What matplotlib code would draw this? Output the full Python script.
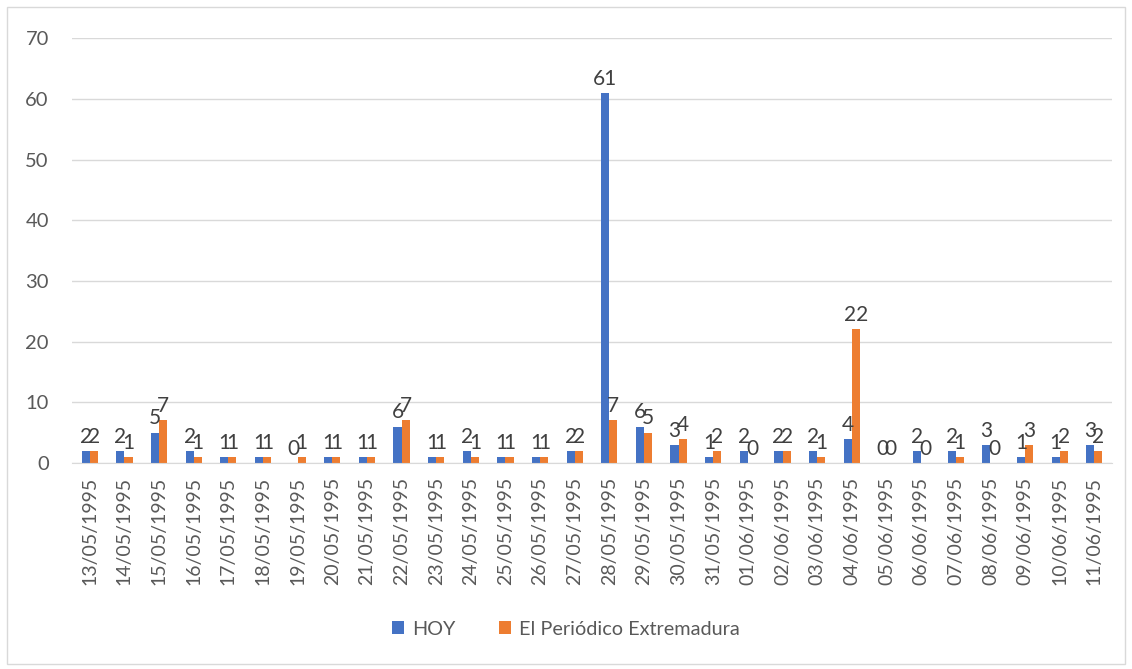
import numpy as np
import matplotlib.pyplot as plt
from matplotlib.patches import Rectangle

dates = ['13/05/1995', '14/05/1995', '15/05/1995', '16/05/1995', '17/05/1995',
         '18/05/1995', '19/05/1995', '20/05/1995', '21/05/1995', '22/05/1995',
         '23/05/1995', '24/05/1995', '25/05/1995', '26/05/1995', '27/05/1995',
         '28/05/1995', '29/05/1995', '30/05/1995', '31/05/1995', '01/06/1995',
         '02/06/1995', '03/06/1995', '04/06/1995', '05/06/1995', '06/06/1995',
         '07/06/1995', '08/06/1995', '09/06/1995', '10/06/1995', '11/06/1995']
hoy = [2, 2, 5, 2, 1, 1, 0, 1, 1, 6, 1, 2, 1, 1, 2, 61, 6, 3, 1, 2,
       2, 2, 4, 0, 2, 2, 3, 1, 1, 3]
periodico = [2, 1, 7, 1, 1, 1, 1, 1, 1, 7, 1, 1, 1, 1, 2, 7, 5, 4, 2, 0,
             2, 1, 22, 0, 0, 1, 0, 3, 2, 2]

plt.rcParams['font.family'] = ['Lato', 'DejaVu Sans']

fig = plt.figure(figsize=(11.32, 6.69), dpi=100)
ax = fig.add_axes([0.064, 0.308, 0.918, 0.635])

x = np.arange(len(dates))
w = 0.235
b1 = ax.bar(x - w / 2, hoy, w, color='#4472C4', label='HOY')
b2 = ax.bar(x + w / 2, periodico, w, color='#ED7D31', label='El Periódico Extremadura')

for bars in (b1, b2):
    ax.bar_label(bars, padding=3, fontsize=15, color='#404040')

ax.set_xlim(-0.5, len(dates) - 0.5)
ax.set_ylim(0, 70)
ax.set_yticks(range(0, 71, 10))
ax.yaxis.grid(True, color='#D9D9D9', linewidth=1)
ax.set_axisbelow(True)
for s in ['top', 'right', 'left']:
    ax.spines[s].set_visible(False)
ax.spines['bottom'].set_color('#D9D9D9')
ax.tick_params(axis='both', length=0, colors='#595959')
ax.tick_params(axis='y', labelsize=14.5, pad=17)
ax.tick_params(axis='x', labelsize=14, pad=10)
ax.set_xticks(x)
ax.set_xticklabels(dates, rotation=90)

fig.legend(loc='lower center', bbox_to_anchor=(0.5, 0.02), ncol=2, frameon=False,
           fontsize=14.3, labelcolor='#595959', handlelength=0.6, handleheight=0.6,
           columnspacing=2.2, handletextpad=0.4)

fig.patches.append(Rectangle((0.006, 0.008), 0.988, 0.982, transform=fig.transFigure,
                             fill=False, edgecolor='#D9D9D9', linewidth=1))

fig.savefig('out.png', dpi=100)
